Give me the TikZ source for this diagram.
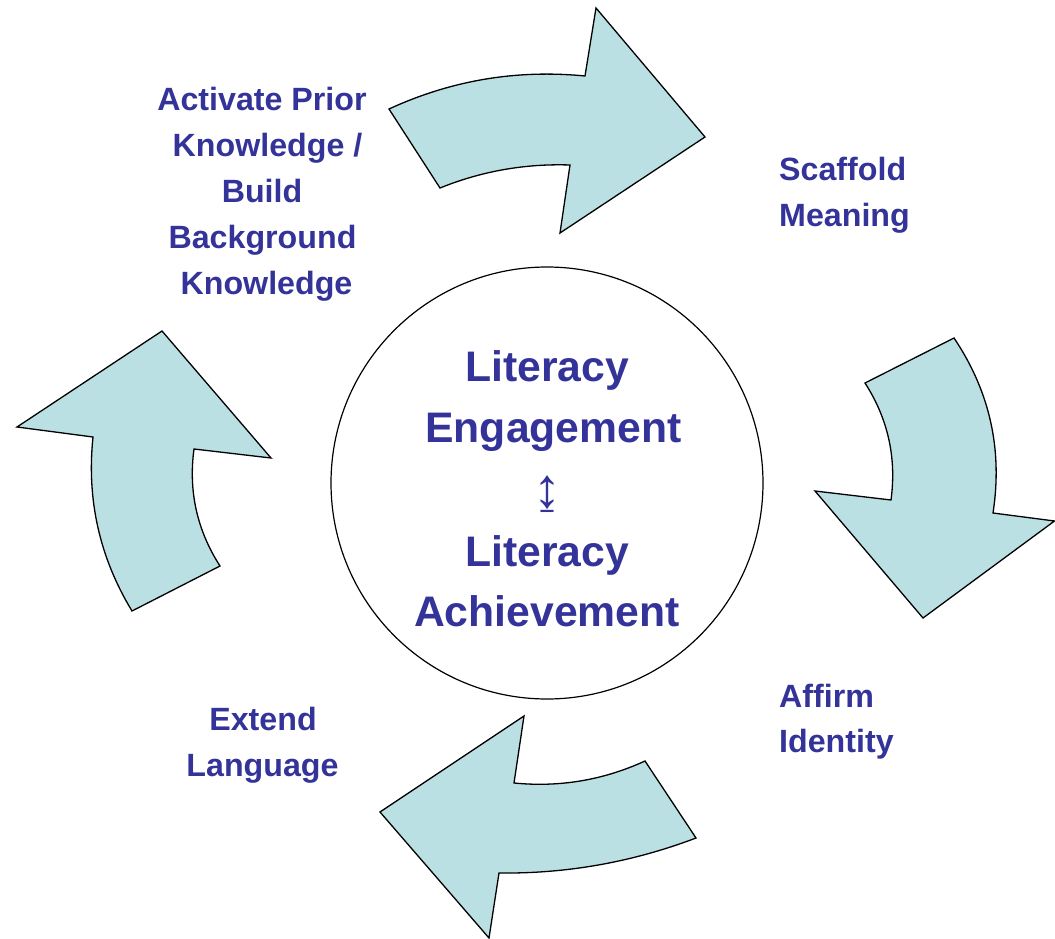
\documentclass[tikz,border=0pt]{standalone}
\usepackage{fontspec}
\setmainfont{Liberation Sans}
\begin{document}
\begin{tikzpicture}[x=1pt,y=-1pt,
  arrowshape/.style={draw=black,fill=arrowfill,line width=1.3pt,line join=miter},
  lbl/.style={text=textblue,font=\bfseries\fontsize{32.2}{38}\selectfont,inner sep=0pt,anchor=base},
  lbll/.style={lbl,anchor=base west},
  ctr/.style={text=textblue,font=\bfseries\fontsize{42.7}{50}\selectfont,inner sep=0pt,anchor=base}]
\definecolor{arrowfill}{HTML}{BBE0E3}
\definecolor{textblue}{HTML}{333399}
\useasboundingbox (0,0) rectangle (1055,939);
% central circle
\node[draw=black,line width=1.2pt,circle,minimum size=432pt,inner sep=0pt] (hub) at (547,483) {};
% top arrow
\draw[arrowshape] (389,109) .. controls (451.3,80.3) and (516.7,69.3) .. (585,76)
  -- (596,8) -- (705,137) -- (560,233) -- (570,165)
  .. controls (525.1,163.5) and (481.7,171.1) .. (440,188) -- cycle;
% right arrow
\draw[arrowshape] (954,338) .. controls (989.8,391.3) and (1002.8,449.6) .. (993,513)
  -- (1054.5,521) -- (923,618) -- (815,491) -- (891,500)
  .. controls (896.7,457.8) and (888,418.8) .. (865,383) -- cycle;
% bottom arrow
\draw[arrowshape] (645,761) -- (696,838) .. controls (632.5,862.1) and (566.9,873.8) .. (499,873)
  -- (489,938) -- (380,812) -- (524,716) -- (514,783)
  .. controls (559.7,787.5) and (603.3,780.1) .. (645,761) -- cycle;
% left arrow
\draw[arrowshape] (132,611) -- (220,566) .. controls (197,530.2) and (188.3,491.2) .. (194,449)
  -- (271,458) -- (162,331) -- (17,427) -- (93,437)
  .. controls (86.5,499.4) and (99.5,557.4) .. (132,611) -- cycle;
% labels
\node[lbl] (ap1) at (262,110.5) {Activate Prior};
\node[lbl] (ap2) at (267.5,156.5) {Knowledge /};
\node[lbl] (ap3) at (262,202.5) {Build};
\node[lbl] (ap4) at (262.5,248) {Background};
\node[lbl] (ap5) at (266.5,294) {Knowledge};
\node[lbll] (sm1) at (779,180) {Scaffold};
\node[lbll] (sm2) at (779,226) {Meaning};
\node[lbll] (ai1) at (779,707) {Affirm};
\node[lbll] (ai2) at (779,752.5) {Identity};
\node[lbl] (el1) at (263,730.5) {Extend};
\node[lbl] (el2) at (262.5,776.5) {Language};
% centre text
\node[ctr] (c1) at (547,381) {Literacy};
\node[ctr] (c2) at (553.5,442) {Engagement};
\node[text=textblue,font=\fontsize{56}{60}\selectfont,inner sep=0pt] (c3) at (547,494.5) {↨};
\node[ctr] (c4) at (547,566) {Literacy};
\node[ctr] (c5) at (547,626) {Achievement};
\end{tikzpicture}
\end{document}
